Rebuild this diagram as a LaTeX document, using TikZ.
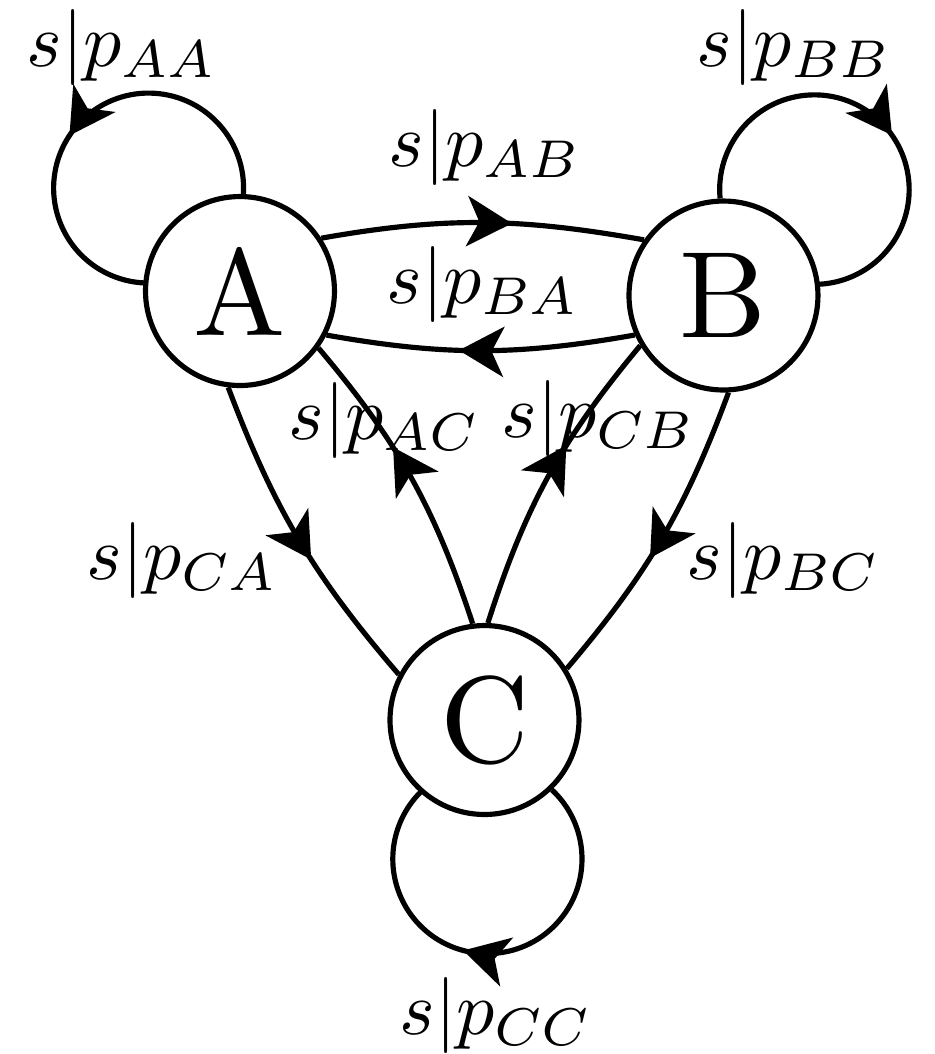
\documentclass[tikz,border=0pt]{standalone}
\usetikzlibrary{arrows.meta,decorations.markings}
\newcommand{\statelabel}[1]{\scalebox{1.62}{#1}}
\begin{document}
\begin{tikzpicture}[x=0.1316pt,y=0.1316pt,
  st/.style={circle,draw,line width=0.68pt,minimum size=24.87pt,inner sep=0pt,font=\fontsize{10}{12}\selectfont},
  lbl/.style={anchor=base west,inner sep=0pt,font=\fontsize{10}{12}\selectfont},
  edge/.style={line width=0.68pt},
  midarrow/.style={postaction={decorate},decoration={markings,mark=at position #1 with {\arrow{Stealth[length=5.9pt,width=6.6pt,inset=1.6pt]}}}}
]
\useasboundingbox (0,0) rectangle (935,-1054);
\node[st] (A) at (240,-291) {\statelabel{A}};
\node[st] (B) at (723.5,-295.5) {\statelabel{B}};
\node[st] (C) at (484.5,-720) {\statelabel{C}};
% loops
\draw[edge,midarrow=0.55] (A.88) arc[start angle=-3.6, end angle=269.2, radius=12.5pt];
\draw[edge,midarrow=0.55] (B.92) arc[start angle=185.4, end angle=-88, radius=12.47pt];
\draw[edge,midarrow=0.555] (C.-46) arc[start angle=47, end angle=-226.7, radius=12.45pt];
% edges
\draw[edge,midarrow=0.59] (A.33) to[out=10,in=170] (B.145);
\draw[edge,midarrow=0.57] (B.204) to[out=190,in=-10] (A.-27);
\draw[edge,midarrow=0.61] (C.97) to[bend right=11] (A.-36);
\draw[edge,midarrow=0.61] (C.88) to[bend left=11] (B.211);
\draw[edge,midarrow=0.57] (A.-97) to[bend right=10] (C.152);
\draw[edge,midarrow=0.57] (B.-87) to[bend left=10] (C.32);
% labels
\node[lbl] (lAA) at (25,-66) {$s|p_{AA}$};
\node[lbl] (lBB) at (695,-66) {$s|p_{BB}$};
\node[lbl] (lAB) at (387,-166) {$s|p_{AB}$};
\node[lbl] (lBA) at (385,-303) {$s|p_{BA}$};
\node[lbl] (lAC) at (287,-439) {$s|p_{AC}$};
\node[lbl] (lCB) at (500,-437) {$s|p_{CB}$};
\node[lbl] (lCA) at (85,-579) {$s|p_{CA}$};
\node[lbl] (lBC) at (685,-579) {$s|p_{BC}$};
\node[lbl] (lCC) at (398,-1034) {$s|p_{CC}$};
\end{tikzpicture}
\end{document}
